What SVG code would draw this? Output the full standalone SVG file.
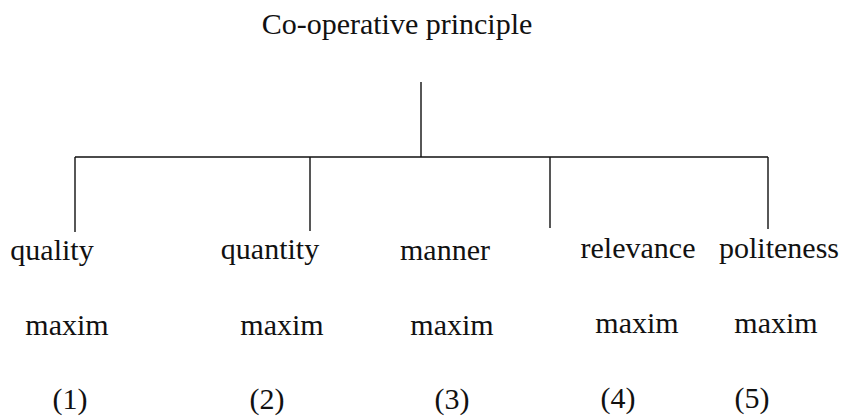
<svg xmlns="http://www.w3.org/2000/svg" width="845" height="417" viewBox="0 0 845 417">
<style>
text{font-family:"Liberation Serif","Times New Roman",serif;font-size:30px;fill:#111;text-anchor:middle}
.c{stroke:#111;stroke-width:1.4;fill:none}
</style>
<rect width="845" height="417" fill="#fff"/>
<g id="root"><text x="397" y="34">Co-operative principle</text></g>
<g id="connectors">
<path class="c" d="M421 82V157M75 157H768M75 157V232M310 157V231M550 157V228M768 157V229"/>
</g>
<g id="quality"><text x="52" y="260">quality</text><text x="67" y="335">maxim</text><text x="70" y="409">(1)</text></g>
<g id="quantity"><text x="270" y="259">quantity</text><text x="282" y="335">maxim</text><text x="267" y="409">(2)</text></g>
<g id="manner"><text x="445" y="260">manner</text><text x="452" y="335">maxim</text><text x="452" y="409">(3)</text></g>
<g id="relevance"><text x="638" y="258">relevance</text><text x="637" y="333">maxim</text><text x="618" y="408">(4)</text></g>
<g id="politeness"><text x="779" y="258">politeness</text><text x="776" y="333">maxim</text><text x="752" y="408">(5)</text></g>
</svg>
